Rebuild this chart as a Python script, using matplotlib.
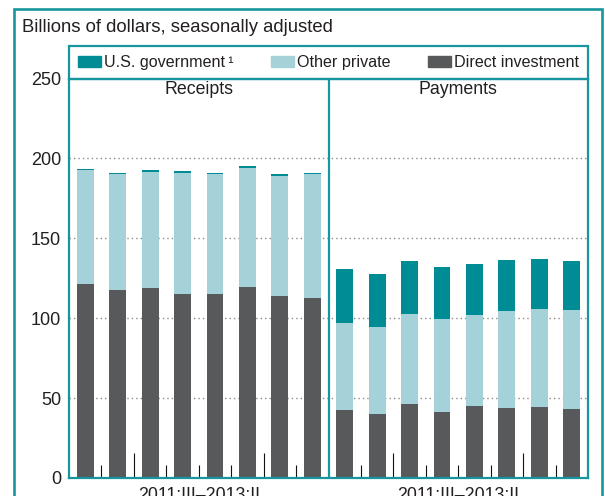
import matplotlib
matplotlib.use("Agg")
import matplotlib.pyplot as plt
from matplotlib.patches import Rectangle, Patch
import numpy as np

plt.rcParams['font.family'] = ['Liberation Sans', 'DejaVu Sans']

# ---- data ----
quarters = ["2011:III", "2011:IV", "2012:I", "2012:II", "2012:III", "2012:IV", "2013:I", "2013:II"]
panels = ["Receipts", "Payments"]
series = ["U.S. government\u2009\u00b9", "Other private", "Direct investment"]
period_label = "2011:III\u20132013:II"

receipts_direct = [121.4, 117.7, 118.9, 115.2, 115.2, 119.6, 114.0, 112.7]
receipts_other = [71.3, 72.5, 72.5, 75.6, 75.0, 74.3, 75.0, 77.5]
receipts_gov = [0.6, 0.6, 1.3, 1.3, 0.6, 1.3, 1.2, 0.6]

payments_direct = [42.7, 40.2, 46.4, 41.4, 45.2, 44.0, 44.6, 43.3]
payments_other = [54.4, 54.4, 56.3, 58.2, 56.9, 60.6, 61.2, 61.9]
payments_gov = [33.7, 33.1, 33.1, 32.5, 31.9, 31.8, 31.3, 30.6]

yticks = [0, 50, 100, 150, 200, 250]

# ---- style ----
C_GOV = '#008C95'
C_OTHER = '#A4D2D8'
C_DIRECT = '#58595B'
C_FRAME = '#17969D'
TXT = '#231F20'

W, H = 605, 496
fig = plt.figure(figsize=(W / 100, H / 100), dpi=100)

def fx(px):
    return px / W

def fy(py):
    return 1 - py / H

ax_l, ax_r, ax_t, ax_b = 69, 588, 78.5, 478
ax = fig.add_axes([fx(ax_l), fy(ax_b), fx(ax_r) - fx(ax_l), fy(ax_t) - fy(ax_b)])

n = len(quarters)
xr = np.arange(n) + 0.5
xp = np.arange(n) + n + 0.5
bw = 0.52

for x, d, o, g in [(xr, receipts_direct, receipts_other, receipts_gov),
                   (xp, payments_direct, payments_other, payments_gov)]:
    d = np.array(d); o = np.array(o); g = np.array(g)
    ax.bar(x, d, bw, color=C_DIRECT, zorder=2)
    ax.bar(x, o, bw, bottom=d, color=C_OTHER, zorder=2)
    ax.bar(x, g, bw, bottom=d + o, color=C_GOV, zorder=2)

ax.set_xlim(0, 2 * n)
ax.set_ylim(0, 250)
ax.set_yticks(yticks)
ax.set_yticklabels([str(v) for v in yticks], fontsize=13, color=TXT)
ax.tick_params(axis='y', length=0, pad=5.8)

for v in yticks[1:-1]:
    ax.axhline(v, color='#8a8a8a', lw=1.0, ls=(0, (1, 2.2)), zorder=1)

# x ticks between bars; tall at year boundaries
boundaries = [i for i in range(1, 2 * n) if i != n]
major = [b for b in boundaries if (b % n) in (2, 6)]
minor = [b for b in boundaries if b not in major]
ax.set_xticks(major)
ax.set_xticks(minor, minor=True)
ax.set_xticklabels([])
ax.tick_params(axis='x', which='major', direction='in', length=18, width=0.8, color='#111111')
ax.tick_params(axis='x', which='minor', direction='in', length=9.4, width=0.8, color='#111111')

for s in ax.spines.values():
    s.set_color(C_FRAME)
    s.set_linewidth(1.6)
ax.axvline(n, color=C_FRAME, lw=1.6, zorder=3)

# panel titles and period labels
for i, name in enumerate(panels):
    cx = n * i + n / 2
    ax.text(cx, (ax_b - 90) / (ax_b - ax_t), name, transform=ax.get_xaxis_transform(),
            ha='center', va='center', fontsize=12.8, color=TXT)
    ax.text(cx, -(500 - ax_b) / (ax_b - ax_t), period_label, transform=ax.get_xaxis_transform(),
            ha='center', va='baseline', fontsize=12.8, color=TXT, clip_on=False)

# legend box
fig.patches.append(Rectangle((fx(ax_l), fy(ax_t)), fx(ax_r) - fx(ax_l), fy(46) - fy(ax_t),
                             transform=fig.transFigure, fill=False, edgecolor=C_FRAME, lw=1.6))
handles = [Patch(color=C_GOV), Patch(color=C_OTHER), Patch(color=C_DIRECT)]
fig.legend(handles, series, loc='center left', bbox_to_anchor=(fx(78), fy(62.5)),
           bbox_transform=fig.transFigure, ncol=3, frameon=False, fontsize=11.6,
           handlelength=1.43, handleheight=0.7, handletextpad=0.2, columnspacing=2.3,
           borderpad=0, borderaxespad=0, labelcolor=TXT)

# heading
fig.text(fx(22), fy(27), "Billions of dollars, seasonally adjusted", ha='left', va='center',
         fontsize=13.3, color=TXT)

# outer frame
fig.patches.append(Rectangle((fx(13.5), fy(520)), fx(601.5) - fx(13.5), fy(8.8) - fy(520),
                             transform=fig.transFigure, fill=False, edgecolor=C_FRAME, lw=1.9))

fig.savefig('out.png', dpi=100)
